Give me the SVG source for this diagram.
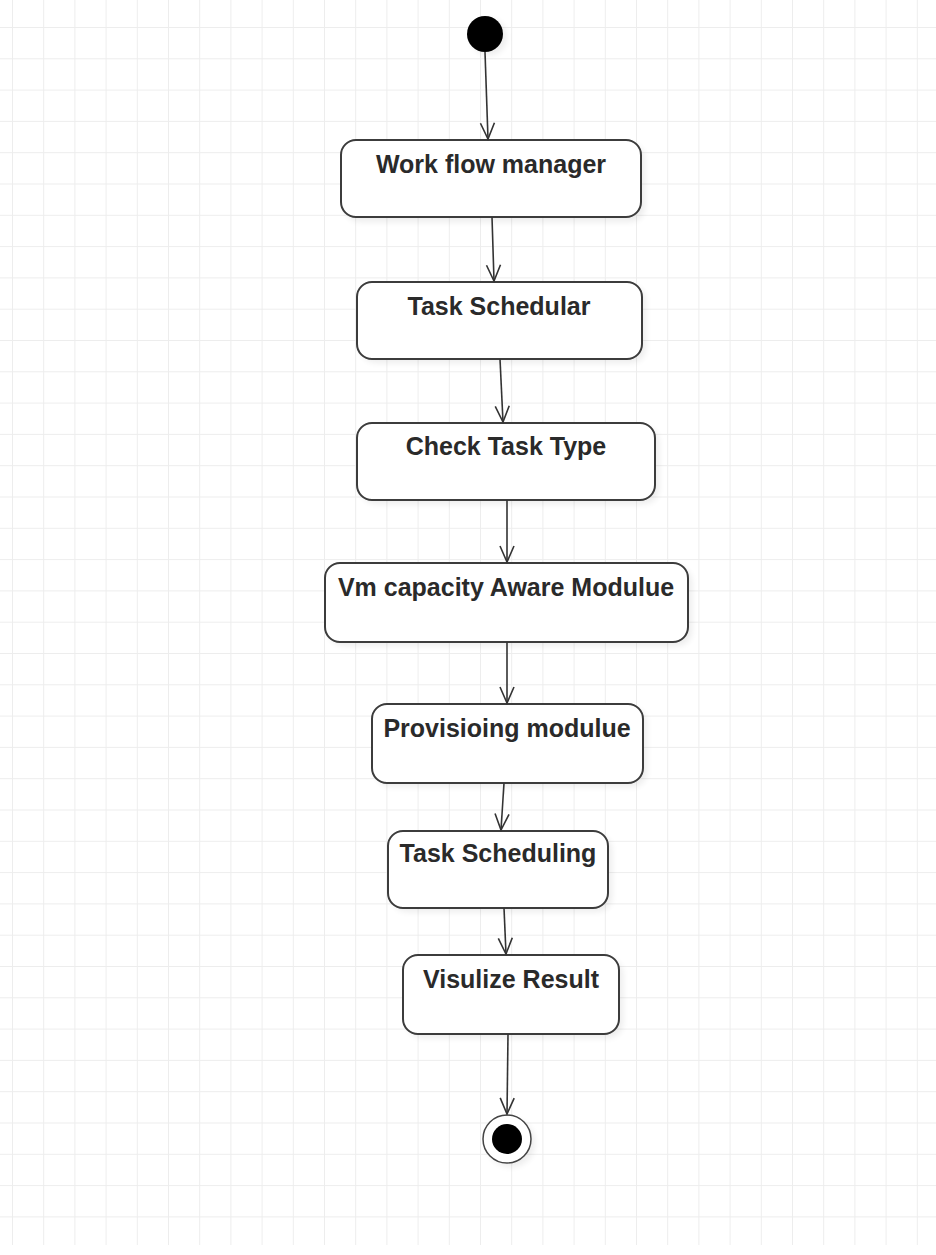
<svg xmlns="http://www.w3.org/2000/svg" width="936" height="1255" viewBox="0 0 936 1255">
  <defs>
    <pattern id="grid" x="12" y="27" width="31.2" height="31.3" patternUnits="userSpaceOnUse">
      <path d="M0 0 V31.3 M0 0 H31.2" fill="none" stroke="#ededed" stroke-width="2"/>
    </pattern>
    <filter id="soft" x="-10%" y="-10%" width="130%" height="140%">
      <feGaussianBlur stdDeviation="3"/>
    </filter>
    <marker id="open" viewBox="0 0 20 20" refX="18" refY="10" markerWidth="20" markerHeight="20" markerUnits="userSpaceOnUse" orient="auto">
      <path d="M2 3 L18 10 L2 17" fill="none" stroke="#333" stroke-width="1.6"/>
    </marker>
  </defs>
  <style>
    .box { fill: #ffffff; stroke: #3c3c3c; stroke-width: 2; }
    .shadow { fill: #000000; opacity: 0.07; filter: url(#soft); }
    .label { font-family: "Liberation Sans", Arial, sans-serif; font-weight: bold; font-size: 25px; fill: #2a2a2a; text-anchor: middle; }
    .edge { fill: none; stroke: #333333; stroke-width: 1.6; marker-end: url(#open); }
  </style>

  <rect width="936" height="1255" fill="#ffffff"/>
  <rect width="936" height="1245" fill="url(#grid)"/>

  <!-- initial node -->
  <g id="start">
    <circle cx="489" cy="37" r="18" class="shadow"/>
    <circle cx="485" cy="34" r="18" fill="#000000"/>
  </g>

  <g id="workflow-manager">
    <rect x="345" y="144" width="300" height="78" rx="15" class="shadow"/>
    <rect x="341" y="140" width="300" height="77" rx="15" class="box"/>
    <text x="491" y="173" class="label">Work flow manager</text>
  </g>

  <g id="task-schedular">
    <rect x="361" y="286" width="285" height="77" rx="15" class="shadow"/>
    <rect x="357" y="282" width="285" height="77" rx="15" class="box"/>
    <text x="499" y="315" class="label">Task Schedular</text>
  </g>

  <g id="check-task-type">
    <rect x="361" y="427" width="298" height="77" rx="15" class="shadow"/>
    <rect x="357" y="423" width="298" height="77" rx="15" class="box"/>
    <text x="506" y="455" class="label">Check Task Type</text>
  </g>

  <g id="vm-capacity-aware">
    <rect x="329" y="567" width="363" height="79" rx="15" class="shadow"/>
    <rect x="325" y="563" width="363" height="79" rx="15" class="box"/>
    <text x="506" y="596" class="label">Vm capacity Aware Modulue</text>
  </g>

  <g id="provisioning">
    <rect x="376" y="708" width="271" height="79" rx="15" class="shadow"/>
    <rect x="372" y="704" width="271" height="79" rx="15" class="box"/>
    <text x="507" y="737" class="label">Provisioing modulue</text>
  </g>

  <g id="task-scheduling">
    <rect x="392" y="835" width="220" height="77" rx="15" class="shadow"/>
    <rect x="388" y="831" width="220" height="77" rx="15" class="box"/>
    <text x="498" y="862" class="label">Task Scheduling</text>
  </g>

  <g id="visualize-result">
    <rect x="407" y="959" width="216" height="79" rx="15" class="shadow"/>
    <rect x="403" y="955" width="216" height="79" rx="15" class="box"/>
    <text x="511" y="988" class="label">Visulize Result</text>
  </g>

  <!-- final node -->
  <g id="end">
    <circle cx="511" cy="1143" r="24" class="shadow"/>
    <circle cx="507" cy="1139" r="24" fill="#ffffff" stroke="#444" stroke-width="1.5"/>
    <circle cx="507" cy="1139" r="15" fill="#000000"/>
  </g>

  <g id="connectors">
    <path d="M485 52 L488 139" class="edge"/>
    <path d="M492 217 L494 281" class="edge"/>
    <path d="M500 359 L503 422" class="edge"/>
    <path d="M507 500 L507 562" class="edge"/>
    <path d="M507 642 L507 703" class="edge"/>
    <path d="M504 783 L501 830" class="edge"/>
    <path d="M504 908 L506 954" class="edge"/>
    <path d="M508 1034 L507 1114" class="edge"/>
  </g>
</svg>
